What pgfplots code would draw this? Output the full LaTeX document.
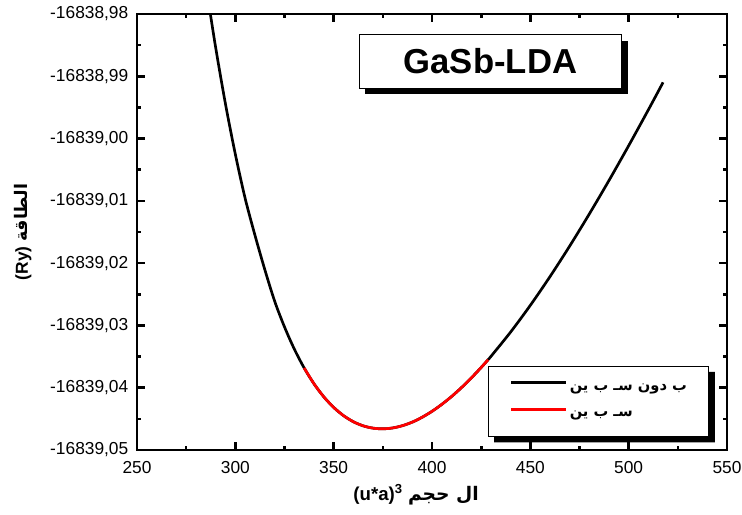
\documentclass[border=0pt]{standalone}
\usepackage{fontspec}
\setmainfont{Liberation Sans}
\newfontfamily\arabicfont[Script=Arabic]{DejaVu Sans}
\usepackage{pgfplots}
\pgfplotsset{compat=1.18}
\usetikzlibrary{shadows}
\TeXXeTstate=1

\pgfplotstableread{
V E
286 22.69
290 14.61
295 5.53
300 -2.51
305 -9.61
310 -15.54
315 -21.05
320 -26.11
325 -30.24
330 -33.80
335 -36.83
340 -39.37
345 -41.47
350 -43.16
355 -44.48
360 -45.46
365 -46.12
370 -46.49
375 -46.60
380 -46.46
385 -46.09
390 -45.52
395 -44.74
400 -43.79
405 -42.67
410 -41.40
415 -39.98
420 -38.43
425 -36.75
428.5 -35.51
430 -34.96
440 -31.05
450 -26.77
460 -22.16
470 -17.26
480 -12.10
490 -6.72
500 -1.14
510 4.61
517.5 9.03
}\nospin

\pgfplotstableread{
V E
335 -36.83
340 -39.37
345 -41.47
350 -43.16
355 -44.48
360 -45.46
365 -46.12
370 -46.49
375 -46.60
380 -46.46
385 -46.09
390 -45.52
395 -44.74
400 -43.79
405 -42.67
410 -41.40
415 -39.98
420 -38.43
425 -36.75
428.5 -35.51
}\spin

\begin{document}
\begin{tikzpicture}
\begin{axis}[
  scale only axis,
  width=442.5pt, height=327pt,
  xmin=250, xmax=550, ymin=-50, ymax=20,
  xtick={250,300,350,400,450,500,550},
  xticklabels={250,300,350,400,450,500,550},
  ytick={-50,-40,-30,-20,-10,0,10,20},
  yticklabels={{-16839,05},{-16839,04},{-16839,03},{-16839,02},{-16839,01},{-16839,00},{-16838,99},{-16838,98}},
  minor x tick num=1,
  minor y tick num=1,
  tick align=inside,
  major tick length=6pt,
  minor tick length=3pt,
  axis line style={line width=2pt},
  tick style={line width=2pt, black},
  minor tick style={line width=2pt, black},
  ticklabel style={font=\fontsize{13}{15}\selectfont},
  xticklabel style={yshift=-5pt},
  yticklabel style={xshift=-3pt},
  xlabel={\bfseries (u*a)\textsuperscript{3} {\arabicfont\beginR ال حجم\endR}},
  xlabel style={at={(axis description cs:0.473,-0.103)}, anchor=center, font=\fontsize{14}{16}\selectfont\bfseries},
  ylabel={\bfseries (Ry) {\arabicfont\beginR الطاقة\endR}},
  ylabel style={at={(axis description cs:-0.193,0.5)}, anchor=center, font=\fontsize{13}{15}\selectfont\bfseries},
  legend image code/.code={\draw[#1] (0pt,4pt) -- (41pt,4pt);},
  legend cell align=left,
  legend style={name=L, at={(axis description cs:0.595,0.193)}, anchor=north west,
    draw=black, line width=0.6pt, fill=white,
    inner xsep=16pt, inner ysep=11pt, row sep=10pt, column sep=0pt,
    font=\fontsize{11}{13}\selectfont\bfseries\arabicfont},
]
\addplot[black, line width=2pt, smooth] table[x=V, y=E] {\nospin};
\addlegendentry{\makebox[86pt][l]{\beginR ب دون  سـ ب ين\endR}}
\addplot[red, line width=2pt, smooth] table[x=V, y=E] {\spin};
\addlegendentry{\makebox[86pt][l]{\beginR سـ ب ين\endR}}
\node[draw=black, line width=0.6pt, fill=white,
  drop shadow={shadow xshift=4.5pt, shadow yshift=-4.5pt, opacity=1, fill=black},
  minimum width=197pt, minimum height=40pt,
  font=\fontsize{26}{30}\selectfont\bfseries] at (axis description cs:0.599,0.891) {GaSb-LDA};
\end{axis}
\fill[black] ([yshift=-4.5pt]L.north east) -- ([xshift=4.5pt,yshift=-4.5pt]L.north east)
  -- ([xshift=4.5pt,yshift=-4.5pt]L.south east) -- ([xshift=4.5pt,yshift=-4.5pt]L.south west)
  -- ([xshift=4.5pt]L.south west) -- (L.south east) -- cycle;
\pgfresetboundingbox
\path (current axis.south west) ++(-102.75pt,-48pt) rectangle ++(556.5pt,385.5pt);
\end{tikzpicture}
\end{document}
